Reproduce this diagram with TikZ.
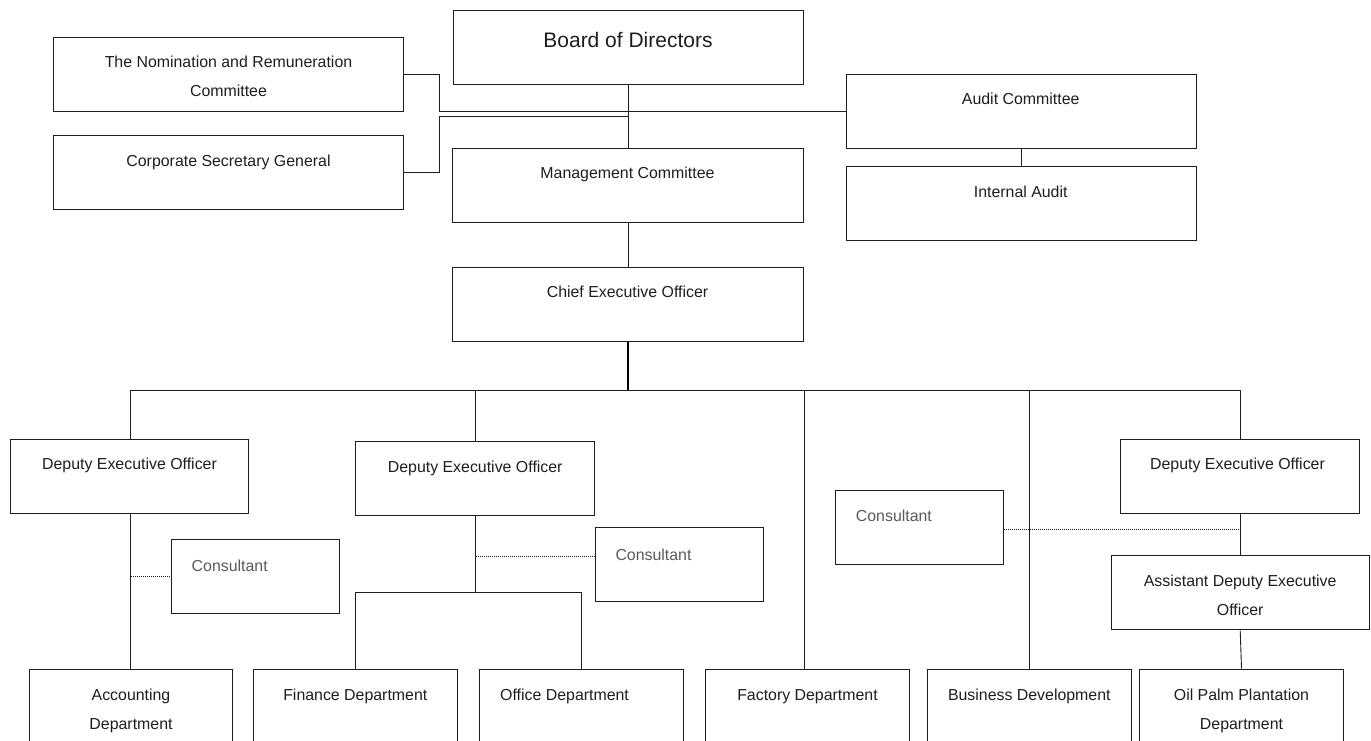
\documentclass[tikz,border=0pt]{standalone}
\usepackage{fontspec}
\setmainfont{Liberation Sans}
\definecolor{ink}{HTML}{1E1E1E}
\definecolor{grayink}{HTML}{5A5A5A}
\tikzset{
  box/.style={draw=ink, line width=1pt, inner sep=0pt, fill=white, rectangle},
  bigbox/.style={box, minimum width=350pt, minimum height=74pt},
  deobox/.style={box, minimum width=238.5pt, minimum height=74pt},
  consbox/.style={box, minimum width=168pt, minimum height=74pt},
  deptbox/.style={box, minimum width=203.5pt, minimum height=73pt},
  txt/.style={anchor=base, inner sep=0pt, text=ink, font=\fontsize{15.9}{18}\selectfont},
  bigtxt/.style={txt, font=\fontsize{21}{24}\selectfont},
  constxt/.style={anchor=base west, inner sep=0pt, text=grayink, font=\fontsize{15.9}{18}\selectfont},
  conn/.style={draw=ink, line width=0.9pt},
  thickconn/.style={draw=black, line width=1.7pt},
  dotconn/.style={draw=ink, line width=0.7pt, dash pattern=on 1pt off 1pt}
}
\begin{document}
\begin{tikzpicture}[x=1pt, y=-1pt]
\useasboundingbox (0,0) rectangle (1371,740);
\fill[white] (0,0) rectangle (1371,740);

% ---- boxes ----
\node[bigbox] (board) at (628,47) {};
\node[bigbox] (nom) at (228,74) {};
\node[bigbox] (csg) at (228,172.5) {};
\node[bigbox, minimum width=351pt] (mgmt) at (627.5,185) {};
\node[bigbox] (audit) at (1021,111) {};
\node[bigbox] (ia) at (1021,203) {};
\node[bigbox, minimum width=351pt] (ceo) at (627.5,304) {};

\node[deobox] (deo1) at (129.7,476.3) {};
\node[deobox] (deo2) at (475,478.8) {};
\node[deobox] (deo3) at (1239.8,476.7) {};
\node[consbox] (cons1) at (255.2,576.3) {};
\node[consbox] (cons2) at (679.2,564.5) {};
\node[consbox] (cons3) at (919.5,527.2) {};
\node[box, minimum width=258.3pt, minimum height=74.3pt] (asst) at (1240.2,592.8) {};

\node[deptbox] (acc) at (131,705.5) {};
\node[deptbox] (fin) at (355.3,705.5) {};
\node[deptbox] (off) at (581.7,705.5) {};
\node[deptbox] (fac) at (807.5,705.5) {};
\node[deptbox] (bus) at (1029.3,705.5) {};
\node[deptbox] (oil) at (1241.5,705.5) {};

% ---- texts ----
\node[bigtxt] (boardt) at (628,47.3) {Board of Directors};
\node[txt] (nomt1) at (228.5,67.3) {The Nomination and Remuneration};
\node[txt] (nomt2) at (228.5,96.7) {Committee};
\node[txt] (csgt) at (228.5,166.7) {Corporate Secretary General};
\node[txt] (mgmtt) at (627.5,178.3) {Management Committee};
\node[txt] (auditt) at (1020.7,104) {Audit Committee};
\node[txt] (iat) at (1020.7,197.3) {Internal Audit};
\node[txt] (ceot) at (627.5,297.7) {Chief Executive Officer};
\node[txt] (deo1t) at (129.5,469.3) {Deputy Executive Officer};
\node[txt] (deo2t) at (475.2,472) {Deputy Executive Officer};
\node[txt] (deo3t) at (1237.5,469.5) {Deputy Executive Officer};
\node[constxt] (cons1t) at (191.5,571.7) {Consultant};
\node[constxt] (cons2t) at (615.3,560) {Consultant};
\node[constxt] (cons3t) at (855.7,521.7) {Consultant};
\node[txt] (asstt1) at (1240.2,586.7) {Assistant Deputy Executive};
\node[txt] (asstt2) at (1240.2,615) {Officer};
\node[txt] (acct1) at (131,700) {Accounting};
\node[txt] (acct2) at (131,729) {Department};
\node[txt] (fint) at (355.3,700) {Finance Department};
\node[txt, anchor=base west] (offt) at (500,700) {Office Department};
\node[txt] (fact) at (807.5,700) {Factory Department};
\node[txt] (bust) at (1029.3,700) {Business Development};
\node[txt] (oilt1) at (1241.5,700) {Oil Palm Plantation};
\node[txt] (oilt2) at (1241.5,729) {Department};

% ---- junction coordinates ----
\coordinate (j1) at (628,116);
\coordinate (bushub) at (628,390);
\coordinate (b1) at (130.5,390);
\coordinate (b2) at (475,390);
\coordinate (b3) at (804,390);
\coordinate (b4) at (1029.7,390);
\coordinate (b5) at (1240,390);
\coordinate (d2hub) at (475,592);
\coordinate (d2l) at (355.7,592);
\coordinate (d2r) at (581.7,592);
\coordinate (c1j) at (130.5,576.3);
\coordinate (c2j) at (476,556);
\coordinate (c3j) at (1240,529);

% ---- connectors ----
\draw[conn] (board.south) -- (mgmt.north -| board.south);
\draw[conn] (nom.east) -- (439,74) -- (439,111) -- (audit.west);
\draw[conn] (csg.east) -- (439,172.5) -- (439,116) -- (j1);
\draw[conn] (mgmt.south -| board.south) -- (ceo.north -| board.south);
\draw[conn] (audit.south) -- (ia.north);

\draw[thickconn] (ceo.south -| bushub) -- (bushub);
\draw[conn] (b1) -- (b5);
\draw[conn] (b1) -- (deo1.north -| b1);
\draw[conn] (b2) -- (deo2.north);
\draw[conn] (b3) -- (fac.north -| b3);
\draw[conn] (b4) -- (bus.north -| b4);
\draw[conn] (b5) -- (deo3.north -| b5);

\draw[conn] (deo1.south -| b1) -- (acc.north -| b1);
\draw[conn] (deo2.south) -- (d2hub);
\draw[conn] (d2l) -- (d2r);
\draw[conn] (d2l) -- (fin.north -| d2l);
\draw[conn] (d2r) -- (off.north -| d2r);
\draw[conn] (deo3.south -| b5) -- (asst.north -| b5);
\draw[conn] (asst.south) -- (oil.north);

\draw[dotconn] (c1j) -- (cons1.west);
\draw[dotconn] (c2j) -- (cons2.west |- c2j);
\draw[dotconn] (cons3.east |- c3j) -- (c3j);
\end{tikzpicture}
\end{document}
